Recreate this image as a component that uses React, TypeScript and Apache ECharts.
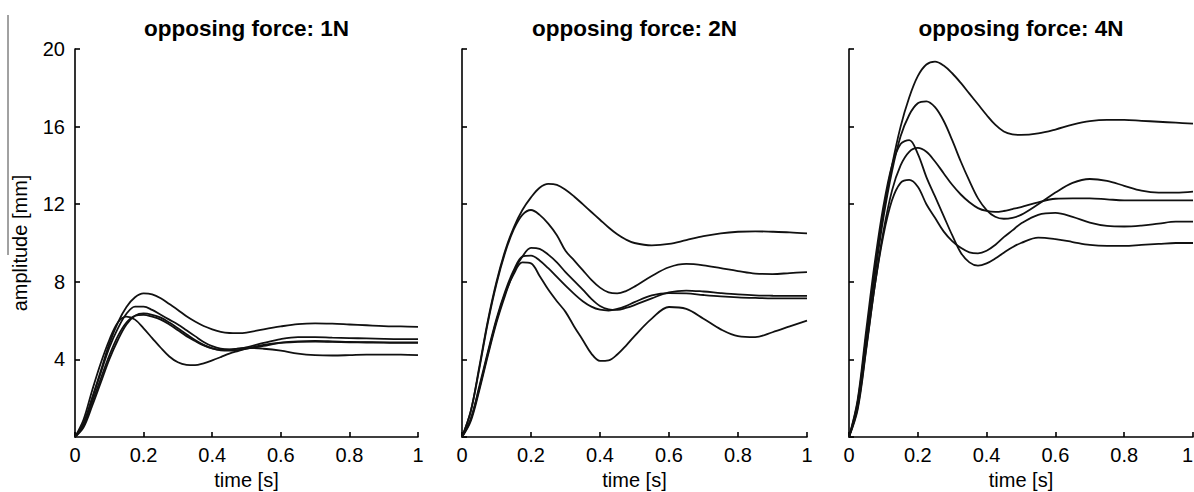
import React, { useEffect, useRef } from "react";
import * as echarts from "echarts";

// shared time grid (s)
const T = [0, 0.025, 0.05, 0.075, 0.1, 0.125, 0.15, 0.175, 0.2, 0.225, 0.25, 0.275, 0.3, 0.325, 0.35, 0.375, 0.4, 0.425, 0.45, 0.475, 0.5, 0.55, 0.6, 0.65, 0.7, 0.75, 0.8, 0.85, 0.9, 0.95, 1];

const titles = ["opposing force: 1N", "opposing force: 2N", "opposing force: 4N"];
const xTicks = [0, 0.2, 0.4, 0.6, 0.8, 1];
const yTicks = [4, 8, 12, 16, 20];

// opposing force 1N (amplitude, mm)
const f1a = [0, 0.7, 2.0, 3.4, 4.8, 5.9, 6.7, 7.2, 7.4, 7.35, 7.15, 6.85, 6.55, 6.22, 5.95, 5.72, 5.55, 5.42, 5.36, 5.35, 5.38, 5.55, 5.7, 5.82, 5.86, 5.84, 5.8, 5.76, 5.72, 5.7, 5.68];
const f1b = [0, 0.7, 2.0, 3.3, 4.6, 5.6, 6.35, 6.72, 6.72, 6.55, 6.3, 6.05, 5.8, 5.5, 5.2, 4.9, 4.68, 4.55, 4.52, 4.55, 4.62, 4.85, 5.05, 5.15, 5.15, 5.12, 5.1, 5.08, 5.06, 5.05, 5.05];
const f1c = [0, 0.5, 1.6, 2.8, 4.0, 5.0, 5.8, 6.25, 6.37, 6.3, 6.15, 5.9, 5.6, 5.3, 5.0, 4.75, 4.57, 4.47, 4.45, 4.48, 4.55, 4.7, 4.85, 4.9, 4.92, 4.9, 4.88, 4.87, 4.86, 4.85, 4.85];
const f1d = [0, 0.9, 2.4, 3.8, 5.0, 5.9, 6.2, 6.05, 5.6, 5.1, 4.6, 4.15, 3.85, 3.72, 3.7, 3.8, 3.95, 4.12, 4.3, 4.43, 4.55, 4.75, 4.87, 4.93, 4.95, 4.93, 4.9, 4.89, 4.88, 4.88, 4.88];
const f1e = [0, 0.6, 1.8, 3.0, 4.2, 5.2, 5.9, 6.25, 6.3, 6.2, 6.05, 5.8, 5.5, 5.2, 4.95, 4.72, 4.57, 4.5, 4.5, 4.55, 4.6, 4.55, 4.45, 4.3, 4.22, 4.2, 4.22, 4.25, 4.25, 4.25, 4.22];

// opposing force 2N
const f2a = [0, 1.3, 3.6, 6.0, 8.0, 9.6, 10.8, 11.7, 12.35, 12.85, 13.05, 13.0, 12.75, 12.4, 12.0, 11.6, 11.2, 10.8, 10.45, 10.18, 10.0, 9.88, 9.95, 10.15, 10.35, 10.5, 10.58, 10.6, 10.58, 10.55, 10.5];
const f2b = [0, 1.3, 3.5, 5.9, 7.9, 9.5, 10.7, 11.45, 11.7, 11.45, 11.0, 10.4, 9.6, 9.1, 8.6, 8.1, 7.7, 7.45, 7.4, 7.52, 7.75, 8.3, 8.75, 8.92, 8.85, 8.7, 8.55, 8.42, 8.4, 8.45, 8.5];
const f2c = [0, 0.8, 2.4, 4.2, 5.9, 7.3, 8.5, 9.3, 9.75, 9.7, 9.4, 9.0, 8.5, 8.05, 7.6, 7.12, 6.75, 6.58, 6.55, 6.65, 6.8, 7.15, 7.45, 7.55, 7.5, 7.42, 7.35, 7.3, 7.28, 7.27, 7.27];
const f2d = [0, 0.9, 2.6, 4.4, 6.1, 7.5, 8.6, 9.3, 9.35, 9.1, 8.7, 8.25, 7.8, 7.38, 7.0, 6.72, 6.56, 6.52, 6.6, 6.75, 6.95, 7.3, 7.42, 7.4, 7.32, 7.25, 7.2, 7.17, 7.15, 7.15, 7.15];
const f2e = [0, 0.9, 2.5, 4.3, 6.0, 7.4, 8.4, 9.0, 8.95, 8.3, 7.6, 7.0, 6.45, 5.7, 5.0, 4.3, 3.92, 3.95, 4.25, 4.7, 5.2, 6.1, 6.7, 6.6, 6.1, 5.55, 5.2, 5.15, 5.4, 5.7, 6.0];

// opposing force 4N
const f4a = [0, 1.8, 5.2, 8.6, 11.6, 14.0, 16.0, 17.5, 18.6, 19.2, 19.35, 19.15, 18.75, 18.25, 17.7, 17.15, 16.6, 16.1, 15.75, 15.6, 15.57, 15.65, 15.85, 16.1, 16.28, 16.35, 16.35, 16.3, 16.25, 16.2, 16.15];
const f4b = [0, 1.6, 4.9, 8.3, 11.3, 13.7, 15.5, 16.6, 17.2, 17.3, 17.0, 16.3, 15.3, 14.2, 13.2, 12.3, 11.7, 11.35, 11.25, 11.3, 11.45, 12.0, 12.6, 13.1, 13.3, 13.2, 12.95, 12.7, 12.6, 12.6, 12.65];
const f4c = [0, 1.9, 5.5, 9.0, 11.9, 14.0, 15.1, 15.3, 14.6, 13.4, 12.4, 11.4, 10.4, 9.5, 9.0, 8.83, 8.95, 9.2, 9.5, 9.78, 10.0, 10.28, 10.2, 10.05, 9.9, 9.85, 9.85, 9.9, 9.95, 10.0, 10.0];
const f4d = [0, 1.4, 4.5, 7.8, 10.6, 12.7, 14.0, 14.7, 14.9, 14.7, 14.2, 13.6, 13.0, 12.5, 12.1, 11.8, 11.65, 11.6, 11.65, 11.75, 11.85, 12.1, 12.28, 12.3, 12.3, 12.25, 12.2, 12.2, 12.2, 12.2, 12.2];
const f4e = [0, 1.5, 4.6, 7.8, 10.4, 12.2, 13.1, 13.25, 12.9, 12.0, 11.3, 10.6, 10.1, 9.75, 9.52, 9.47, 9.6, 9.9, 10.3, 10.65, 11.0, 11.45, 11.55, 11.35, 11.05, 10.88, 10.85, 10.9, 11.0, 11.1, 11.1];

const panels = [
  [f1a, f1b, f1c, f1d, f1e],
  [f2a, f2b, f2c, f2d, f2e],
  [f4a, f4b, f4c, f4d, f4e],
];

const FONT = "'Liberation Sans', Arial, Helvetica, sans-serif";
const grids = [
  { left: 75, top: 49, width: 343, height: 388 },
  { left: 462, top: 49, width: 345, height: 388 },
  { left: 849, top: 49, width: 344, height: 388 },
];

export default function App() {
  const ref = useRef<HTMLDivElement>(null);
  useEffect(() => {
    if (!ref.current) return;
    const chart = echarts.init(ref.current, null, { renderer: "svg" });
    const axisLine = { show: true, lineStyle: { color: "#000", width: 1.6 } };
    const xAxis = grids.map((_, i) => ({
      gridIndex: i,
      type: "value",
      min: xTicks[0],
      max: xTicks[xTicks.length - 1],
      interval: 0.2,
      axisLine,
      axisTick: { show: true, inside: true, length: 5, lineStyle: { color: "#000", width: 1.6 } },
      axisLabel: {
        color: "#000",
        fontSize: 20,
        fontFamily: FONT,
        margin: 8,
        alignMaxLabel: i === 2 ? "right" : undefined,
        formatter: (v: number) => String(Number(v.toFixed(1))),
      },
      splitLine: { show: false },
      name: "time [s]",
      nameLocation: "middle",
      nameGap: 33,
      nameTextStyle: { color: "#000", fontSize: 20, fontFamily: FONT },
    }));
    const yAxis = grids.map((_, i) => ({
      gridIndex: i,
      type: "value",
      min: 0,
      max: yTicks[yTicks.length - 1],
      interval: 4,
      axisLine,
      axisTick: { show: true, inside: true, length: 5, lineStyle: { color: "#000", width: 1.6 } },
      axisLabel: {
        show: i === 0,
        showMinLabel: false,
        color: "#000",
        fontSize: 20,
        fontFamily: FONT,
        margin: 10,
      },
      splitLine: { show: false },
    }));
    const series: any[] = [];
    panels.forEach((curves, gi) => {
      curves.forEach((vals, ci) => {
        series.push({
          type: "line",
          name: `p${gi}c${ci}`,
          xAxisIndex: gi,
          yAxisIndex: gi,
          data: T.map((t, k) => [t, vals[k]]),
          smooth: 0.35,
          showSymbol: false,
          symbol: "none",
          lineStyle: { color: "#111", width: 1.8 },
          z: 3,
        });
      });
    });
    const graphic: any[] = titles.map((t, i) => ({
      type: "text",
      x: grids[i].left + grids[i].width / 2,
      y: 28,
      style: {
        text: t,
        fill: "#000",
        font: `bold 22.5px ${FONT}`,
        textAlign: "center",
        textVerticalAlign: "middle",
      },
    }));
    graphic.push({
      type: "text",
      x: 20,
      y: 243,
      rotation: Math.PI / 2,
      style: {
        text: "amplitude [mm]",
        fill: "#000",
        font: `20px ${FONT}`,
        textAlign: "center",
        textVerticalAlign: "middle",
      },
    });
    graphic.push({
      type: "line",
      shape: { x1: 8, y1: 15, x2: 8, y2: 255 },
      style: { stroke: "#444", lineWidth: 1 },
    });
    chart.setOption({
      animation: false,
      backgroundColor: "#fff",
      grid: grids.map((g) => ({ ...g, containLabel: false, outerBoundsMode: "none" })),
      xAxis,
      yAxis,
      series,
      graphic,
    });
    return () => chart.dispose();
  }, []);
  return (
    <div
      ref={ref}
      style={{ position: "fixed", left: 0, top: 0, width: 1194, height: 492, background: "#fff" }}
    />
  );
}
